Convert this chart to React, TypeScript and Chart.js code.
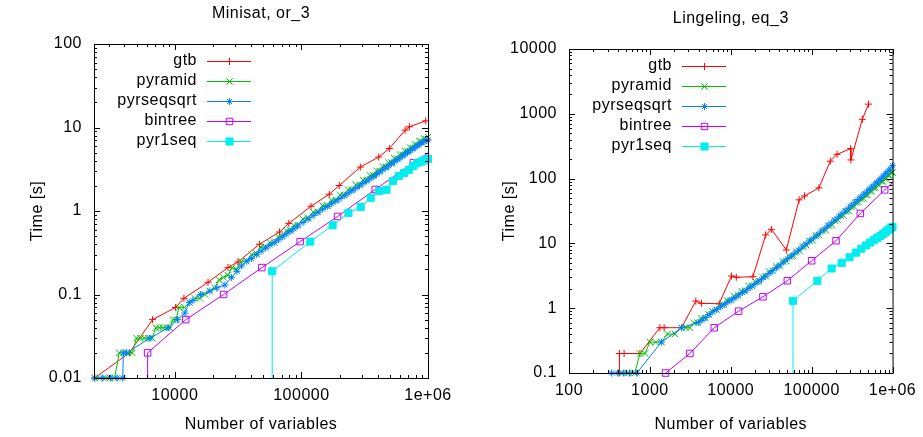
import React, { useEffect, useRef } from 'react';
import { Chart, registerables } from 'chart.js';

Chart.register(...registerables);

// ---------------- shared series styling ----------------
const seriesNames = ['gtb', 'pyramid', 'pyrseqsqrt', 'bintree', 'pyr1seq'];
const seriesColors = ['#ff0000', '#00c000', '#0080ff', '#c000ff', '#00eeee'];
const seriesMarkers = ['cross', 'crossRot', 'star', 'rect', 'rect'];
const markerFilled = [false, false, false, false, true];
const markerRadius = [3.5, 4.5, 3.5, 4.6, 5];

const FONT_FAMILY = '"Liberation Sans", Arial, Helvetica, sans-serif';
const FONT_SIZE = 16;
const LETTER_SPACING = '0.5px';

const xAxisTitle = 'Number of variables';
const yAxisTitle = 'Time [s]';

// ---------------- Minisat, or_3 ----------------
const minisatTitle = 'Minisat, or_3';
const minisatXRange = [2300, 1000000];
const minisatYRange = [0.01, 100];
const minisatXTicks = [10000, 100000, 1000000];
const minisatXTickLabels = ['10000', '100000', '1e+06'];
const minisatYTicks = [0.01, 0.1, 1, 10, 100];
const minisatYTickLabels = ['0.01', '0.1', '1', '10', '100'];

const minisatGtbX = [2330, 4370, 6670, 10150, 11800, 18300, 26300, 31500, 46700, 67100, 79500, 119000, 166000, 199000, 292000, 408000, 495000, 660000, 713000, 960000];
const minisatGtbT = [0.01, 0.02, 0.05, 0.07, 0.09, 0.14, 0.21, 0.245, 0.4, 0.56, 0.71, 1.14, 1.59, 2.02, 3.36, 4.43, 5.6, 9.3, 10.2, 12.0];

const minisatPyramidX = [
  2330, 2560, 2800, 3060, 3340, 3640, 3950, 4270, 4620, 4980,
  5360, 5760, 6180, 6620, 7080, 7560, 8060, 8580, 9120, 9680,
  10200, 10800, 11900, 13100, 14400, 15800, 17300, 18900, 20600, 22400,
  24300, 26300, 28400, 30600, 33600, 36900, 40400, 44100, 48000, 52100,
  56400, 61000, 65800, 70800, 76000, 81500, 87200, 93200, 103000, 113000,
  124000, 135000, 147000, 160000, 173000, 187000, 202000, 218000, 234000, 251000,
  269000, 288000, 307000, 327000, 348000, 370000, 392000, 415000, 439000, 464000,
  490000, 516000, 543000, 571000, 600000, 629000, 659000, 690000, 722000, 755000,
  788000, 822000, 857000, 893000, 930000, 967000, 1000000,
];
const minisatPyramidT = [
  0.01, 0.01, 0.01, 0.01, 0.01, 0.02, 0.02, 0.02, 0.02, 0.03,
  0.03, 0.03, 0.03, 0.03, 0.04, 0.04, 0.04, 0.04, 0.04, 0.05,
  0.05, 0.07, 0.07, 0.08, 0.09, 0.09, 0.1, 0.11, 0.12, 0.15,
  0.16, 0.17, 0.21, 0.2, 0.25, 0.25, 0.3, 0.31, 0.37, 0.37,
  0.42, 0.42, 0.49, 0.5, 0.58, 0.59, 0.67, 0.68, 0.8, 0.83,
  0.97, 0.98, 1.16, 1.16, 1.35, 1.35, 1.56, 1.56, 1.8, 1.8,
  2.06, 2.05, 2.35, 2.35, 2.67, 2.67, 3.03, 3.0, 3.4, 3.38,
  3.8, 3.8, 4.27, 4.25, 4.75, 4.72, 5.25, 5.2, 5.75, 5.7,
  6.27, 6.22, 6.85, 6.78, 7.38, 7.3, 7.7,
];

const minisatPyrseqsqrtX = [
  2330, 2700, 3100, 3500, 3880, 3920, 4170, 6360, 8860, 10500,
  12000, 13000, 13900, 16000, 18900, 21500, 24900, 28000, 31000, 33600,
  37000, 40400, 44100, 48000, 52100, 56400, 61000, 65800, 70800, 76000,
  81500, 87200, 93200, 103000, 113000, 124000, 135000, 147000, 160000, 173000,
  187000, 202000, 218000, 234000, 251000, 269000, 288000, 307000, 327000, 348000,
  370000, 392000, 415000, 439000, 464000, 490000, 516000, 543000, 571000, 600000,
  629000, 659000, 690000, 722000, 755000, 788000, 822000, 857000, 893000, 930000,
  967000, 1000000,
];
const minisatPyrseqsqrtT = [
  0.01, 0.01, 0.01, 0.01, 0.01, 0.02, 0.02, 0.03, 0.04, 0.05,
  0.06, 0.08, 0.085, 0.1, 0.11, 0.12, 0.13, 0.16, 0.19, 0.22,
  0.25, 0.27, 0.3, 0.33, 0.36, 0.39, 0.42, 0.45, 0.49, 0.53,
  0.57, 0.61, 0.66, 0.73, 0.8, 0.88, 0.96, 1.05, 1.13, 1.22,
  1.31, 1.41, 1.52, 1.63, 1.75, 1.87, 2.0, 2.14, 2.28, 2.43,
  2.58, 2.75, 2.92, 3.1, 3.28, 3.47, 3.68, 3.89, 4.1, 4.32,
  4.55, 4.78, 5.02, 5.27, 5.52, 5.77, 6.03, 6.3, 6.57, 6.83,
  6.95, 7.1,
];

const minisatBintreeX = [6100, 6100, 12200, 24300, 48700, 97800, 193000, 383000, 767000, 1530000];
const minisatBintreeT = [0.001, 0.02, 0.05, 0.1, 0.21, 0.43, 0.86, 1.81, 3.79, 7.6];

const pyr1seqX = [58800, 58800, 117600, 176400, 235200, 294000, 352800, 411600, 470400, 529200, 588000, 646800, 705600, 764400, 823200, 882000, 940800, 999600];
const minisatPyr1seqT = [0.001, 0.19, 0.43, 0.675, 0.95, 1.12, 1.44, 1.73, 1.8, 2.28, 2.62, 2.85, 3.1, 3.45, 3.75, 3.9, 4.05, 4.2];

// ---------------- Lingeling, eq_3 ----------------
const lingelingTitle = 'Lingeling, eq_3';
const lingelingXRange = [100, 1000000];
const lingelingYRange = [0.1, 10000];
const lingelingXTicks = [100, 1000, 10000, 100000, 1000000];
const lingelingXTickLabels = ['100', '1000', '10000', '100000', '1e+06'];
const lingelingYTicks = [0.1, 1, 10, 100, 1000, 10000];
const lingelingYTickLabels = ['0.1', '1', '10', '100', '1000', '10000'];

const lingelingGtbX = [417, 420, 480, 753, 1330, 1500, 2460, 3700, 4340, 7180, 10200, 11700, 18800, 27000, 31800, 48600, 70000, 81700, 123000, 170000, 206000, 303000, 306000, 423000, 505000];
const lingelingGtbT = [0.1, 0.2, 0.2, 0.2, 0.5, 0.5, 0.5, 1.29, 1.19, 1.17, 3.14, 3.0, 3.06, 13.5, 16.5, 7.9, 47, 54, 72, 186, 237, 290, 194, 822, 1410];

const lingelingPyramidX = [
  447, 540, 652, 753, 870, 1000, 1180, 1390, 1650, 2040,
  2460, 2800, 3120, 3500, 3900, 4300, 4800, 5300, 5900, 6600,
  7300, 8100, 9000, 10000, 11000, 12300, 13600, 15000, 16600, 18300,
  20200, 22300, 24600, 27100, 29900, 33000, 36400, 40100, 44200, 48700,
  53500, 58800, 64700, 71200, 78300, 86000, 94000, 103000, 113000, 124000,
  136000, 149000, 163000, 178000, 194000, 211000, 229000, 248000, 268000, 289000,
  311000, 334000, 358000, 383000, 409000, 436000, 464000, 493000, 523000, 554000,
  586000, 619000, 653000, 688000, 724000, 761000, 799000, 838000, 878000, 919000,
  961000, 1000000,
];
const lingelingPyramidT = [
  0.1, 0.1, 0.1, 0.2, 0.2, 0.3, 0.3, 0.3, 0.4, 0.4,
  0.5, 0.5, 0.5, 0.6, 0.6, 0.7, 0.7, 0.8, 0.9, 0.95,
  1.1, 1.12, 1.32, 1.32, 1.53, 1.56, 1.84, 1.86, 2.2, 2.2,
  2.57, 2.63, 3.05, 3.12, 3.68, 3.75, 4.4, 4.5, 5.25, 5.35,
  6.3, 6.35, 7.45, 7.6, 9.0, 9.3, 10.9, 11.1, 13.1, 13.4,
  15.7, 16.0, 18.9, 19.1, 22.5, 22.9, 26.7, 26.8, 31.4, 31.7,
  36.7, 37, 43, 43, 49, 49, 56.5, 55.5, 64, 63.5,
  72, 71.5, 81.5, 80, 91, 90, 101, 100.5, 113, 111,
  125, 124,
];

const lingelingPyrseqsqrtX = [
  336, 400, 470, 560, 690, 1390, 2460, 3960, 4400, 4900,
  5400, 6000, 6700, 7500, 8300, 9200, 10200, 11300, 12500, 14000,
  15600, 17400, 19400, 21600, 24000, 26700, 29700, 33000, 36700, 40800,
  45300, 50300, 55900, 62100, 69000, 76600, 85000, 94400, 105000, 116000,
  129000, 143000, 158000, 175000, 194000, 214000, 236000, 260000, 286000, 314000,
  343000, 374000, 407000, 441000, 477000, 515000, 554000, 595000, 638000, 683000,
  729000, 777000, 827000, 879000, 933000, 1000000,
];
const lingelingPyrseqsqrtT = [
  0.1, 0.1, 0.1, 0.1, 0.1, 0.3, 0.5, 0.6, 0.65, 0.72,
  0.8, 0.88, 0.95, 1.05, 1.15, 1.25, 1.35, 1.45, 1.6, 1.75,
  1.9, 2.1, 2.3, 2.55, 2.8, 3.1, 3.45, 3.8, 4.2, 4.65,
  5.2, 5.8, 6.4, 7.1, 7.9, 8.8, 9.8, 10.9, 12.1, 13.4,
  15, 16.7, 18.6, 20.7, 23, 25.6, 28.5, 31.5, 35, 39,
  43, 47.5, 52, 57, 62, 68, 74, 80, 87, 94,
  102, 110, 119, 129, 140, 158,
];

const lingelingBintreeX = [1563, 3125, 6250, 12500, 25000, 50000, 100000, 200000, 400000, 800000, 1600000];
const lingelingBintreeT = [0.1, 0.2, 0.5, 0.9, 1.5, 2.65, 5.4, 11, 29, 67, 150];

const lingelingPyr1seqT = [0.01, 1.3, 2.65, 4.1, 5.0, 6.1, 7.2, 8.3, 9.3, 10.3, 11.2, 12.1, 13.0, 14.0, 15.0, 16.0, 17.0, 18.0];

// ---------------- panels ----------------
type Panel = {
  title: string;
  xRange: number[];
  yRange: number[];
  xTicks: number[];
  xTickLabels: string[];
  yTicks: number[];
  yTickLabels: string[];
  series: { x: number[]; t: number[] }[];
  canvasLeft: number;
  canvasW: number;
  area: { left: number; right: number; top: number; bottom: number };
  yTitleCenter: number;
};

const CANVAS_H = 437;

const panels: Panel[] = [
  {
    title: minisatTitle,
    xRange: minisatXRange,
    yRange: minisatYRange,
    xTicks: minisatXTicks,
    xTickLabels: minisatXTickLabels,
    yTicks: minisatYTicks,
    yTickLabels: minisatYTickLabels,
    series: [
      { x: minisatGtbX, t: minisatGtbT },
      { x: minisatPyramidX, t: minisatPyramidT },
      { x: minisatPyrseqsqrtX, t: minisatPyrseqsqrtT },
      { x: minisatBintreeX, t: minisatBintreeT },
      { x: pyr1seqX, t: minisatPyr1seqT },
    ],
    canvasLeft: 0,
    canvasW: 462,
    area: { left: 94, right: 428, top: 44, bottom: 378 },
    yTitleCenter: 38,
  },
  {
    title: lingelingTitle,
    xRange: lingelingXRange,
    yRange: lingelingYRange,
    xTicks: lingelingXTicks,
    xTickLabels: lingelingXTickLabels,
    yTicks: lingelingYTicks,
    yTickLabels: lingelingYTickLabels,
    series: [
      { x: lingelingGtbX, t: lingelingGtbT },
      { x: lingelingPyramidX, t: lingelingPyramidT },
      { x: lingelingPyrseqsqrtX, t: lingelingPyrseqsqrtT },
      { x: lingelingBintreeX, t: lingelingBintreeT },
      { x: pyr1seqX, t: lingelingPyr1seqT },
    ],
    canvasLeft: 462,
    canvasW: 461,
    area: { left: 107, right: 431, top: 49, bottom: 373 },
    yTitleCenter: 48,
  },
];

function drawMarker(ctx: CanvasRenderingContext2D, i: number, x: number, y: number) {
  const r = markerRadius[i];
  const style = seriesMarkers[i];
  ctx.save();
  ctx.strokeStyle = seriesColors[i];
  ctx.fillStyle = seriesColors[i];
  ctx.lineWidth = 1;
  ctx.beginPath();
  if (style === 'cross' || style === 'star') {
    ctx.moveTo(x - r, y);
    ctx.lineTo(x + r, y);
    ctx.moveTo(x, y - r);
    ctx.lineTo(x, y + r);
  }
  if (style === 'crossRot' || style === 'star') {
    const o = r * Math.SQRT1_2;
    ctx.moveTo(x - o, y - o);
    ctx.lineTo(x + o, y + o);
    ctx.moveTo(x - o, y + o);
    ctx.lineTo(x + o, y - o);
  }
  if (style === 'rect') {
    const s = r * Math.SQRT1_2;
    ctx.rect(x - s, y - s, 2 * s, 2 * s);
    if (markerFilled[i]) ctx.fill();
  }
  ctx.stroke();
  ctx.restore();
}

function makeDecor(p: Panel) {
  return {
    id: 'gnuplotDecor',
    beforeInit(chart: any) {
      chart.ctx.letterSpacing = LETTER_SPACING;
    },
    beforeDraw(chart: any) {
      chart.ctx.letterSpacing = LETTER_SPACING;
    },
    afterDraw(chart: any) {
      const { ctx, chartArea: a } = chart;
      const xs = chart.scales.x;
      const ys = chart.scales.y;
      ctx.save();
      ctx.strokeStyle = '#000';
      ctx.lineWidth = 1;

      const drawLogTicks = (scale: any, horizontal: boolean) => {
        const lo = Math.floor(Math.log10(scale.min) + 1e-9);
        const hi = Math.ceil(Math.log10(scale.max) - 1e-9);
        for (let d = lo; d <= hi; d++) {
          for (let m = 1; m <= 9; m++) {
            const v = m * Math.pow(10, d);
            if (v < scale.min * 0.999 || v > scale.max * 1.001) continue;
            const pos = Math.round(scale.getPixelForValue(v)) + 0.5;
            const len = m === 1 ? 6 : 3;
            ctx.beginPath();
            if (horizontal) {
              ctx.moveTo(pos, a.bottom);
              ctx.lineTo(pos, a.bottom - len);
              ctx.moveTo(pos, a.top);
              ctx.lineTo(pos, a.top + len);
            } else {
              ctx.moveTo(a.left, pos);
              ctx.lineTo(a.left + len, pos);
              ctx.moveTo(a.right, pos);
              ctx.lineTo(a.right - len, pos);
            }
            ctx.stroke();
          }
        }
      };
      drawLogTicks(xs, true);
      drawLogTicks(ys, false);
      ctx.strokeRect(a.left + 0.5, a.top + 0.5, a.right - a.left, a.bottom - a.top);

      // title
      ctx.letterSpacing = LETTER_SPACING;
      ctx.fillStyle = '#000';
      ctx.font = `${FONT_SIZE}px ${FONT_FAMILY}`;
      ctx.textAlign = 'center';
      ctx.textBaseline = 'middle';
      ctx.fillText(p.title, (a.left + a.right) / 2, a.top - 30);

      // legend
      ctx.textAlign = 'right';
      seriesNames.forEach((name, i) => {
        const y = a.top + 17 + i * 20;
        ctx.fillStyle = '#000';
        ctx.fillText(name, a.left + 103, y);
        ctx.strokeStyle = seriesColors[i];
        ctx.beginPath();
        ctx.moveTo(a.left + 113, y + 0.5);
        ctx.lineTo(a.left + 157, y + 0.5);
        ctx.stroke();
        drawMarker(ctx, i, a.left + 135.5, y + 0.5);
      });
      ctx.restore();
    },
  };
}

function buildConfig(p: Panel): any {
  const datasets: any[] = [];
  p.series.forEach((s, i) => {
    const data = s.x.map((x, j) => ({ x, y: s.t[j] }));
    datasets.push({
      label: seriesNames[i] + ' line',
      data,
      showLine: true,
      borderColor: seriesColors[i],
      borderWidth: 1,
      pointRadius: 0,
      fill: false,
      order: 100 - 2 * i,
    });
    datasets.push({
      label: seriesNames[i],
      data,
      showLine: false,
      pointStyle: seriesMarkers[i],
      pointRadius: markerRadius[i],
      pointBorderColor: seriesColors[i],
      pointBackgroundColor: markerFilled[i] ? seriesColors[i] : 'rgba(0,0,0,0)',
      pointBorderWidth: 1,
      clip: 8,
      order: 99 - 2 * i,
    });
  });

  const font = { family: FONT_FAMILY, size: FONT_SIZE };
  const lh = FONT_SIZE * 1.2;

  return {
    type: 'scatter',
    data: { datasets },
    options: {
      responsive: false,
      animation: false,
      events: [],
      layout: {
        padding: { left: 0, top: p.area.top, right: p.canvasW - p.area.right, bottom: 0 },
      },
      plugins: {
        legend: { display: false },
        tooltip: { enabled: false },
        title: { display: false },
      },
      scales: {
        x: {
          type: 'logarithmic',
          min: p.xRange[0],
          max: p.xRange[1],
          bounds: 'data',
          afterBuildTicks: (s: any) => {
            s.ticks = p.xTicks.map((v) => ({ value: v }));
          },
          afterFit: (s: any) => {
            s.height = CANVAS_H - p.area.bottom;
          },
          ticks: {
            autoSkip: false,
            maxRotation: 0,
            minRotation: 0,
            padding: 8,
            color: '#000',
            font,
            callback: (_v: any, idx: number) => p.xTickLabels[idx],
          },
          grid: { display: false, drawTicks: false },
          border: { display: false },
          title: {
            display: true,
            text: xAxisTitle,
            color: '#000',
            font,
            padding: { top: 0, bottom: 12 - lh / 2 },
          },
        },
        y: {
          type: 'logarithmic',
          min: p.yRange[0],
          max: p.yRange[1],
          bounds: 'data',
          afterBuildTicks: (s: any) => {
            s.ticks = p.yTicks.map((v) => ({ value: v }));
          },
          afterFit: (s: any) => {
            s.width = p.area.left;
          },
          ticks: {
            autoSkip: false,
            padding: 12,
            color: '#000',
            font,
            callback: (_v: any, idx: number) => p.yTickLabels[idx],
          },
          grid: { display: false, drawTicks: false },
          border: { display: false },
          title: {
            display: true,
            text: yAxisTitle,
            color: '#000',
            font,
            padding: { top: p.yTitleCenter - lh / 2, bottom: 0 },
          },
        },
      },
    },
    plugins: [makeDecor(p)],
  };
}

function PlotCanvas({ panel }: { panel: Panel }) {
  const ref = useRef<HTMLCanvasElement | null>(null);
  useEffect(() => {
    if (!ref.current) return;
    const chart = new Chart(ref.current, buildConfig(panel));
    return () => chart.destroy();
  }, [panel]);
  return (
    <canvas
      ref={ref}
      width={panel.canvasW}
      height={CANVAS_H}
      style={{ position: 'absolute', left: panel.canvasLeft, top: 0, width: panel.canvasW, height: CANVAS_H }}
    />
  );
}

export default function App() {
  return (
    <div style={{ position: 'fixed', left: 0, top: 0, width: 923, height: CANVAS_H, background: '#fff', overflow: 'hidden' }}>
      {panels.map((p, i) => (
        <PlotCanvas key={i} panel={p} />
      ))}
    </div>
  );
}
